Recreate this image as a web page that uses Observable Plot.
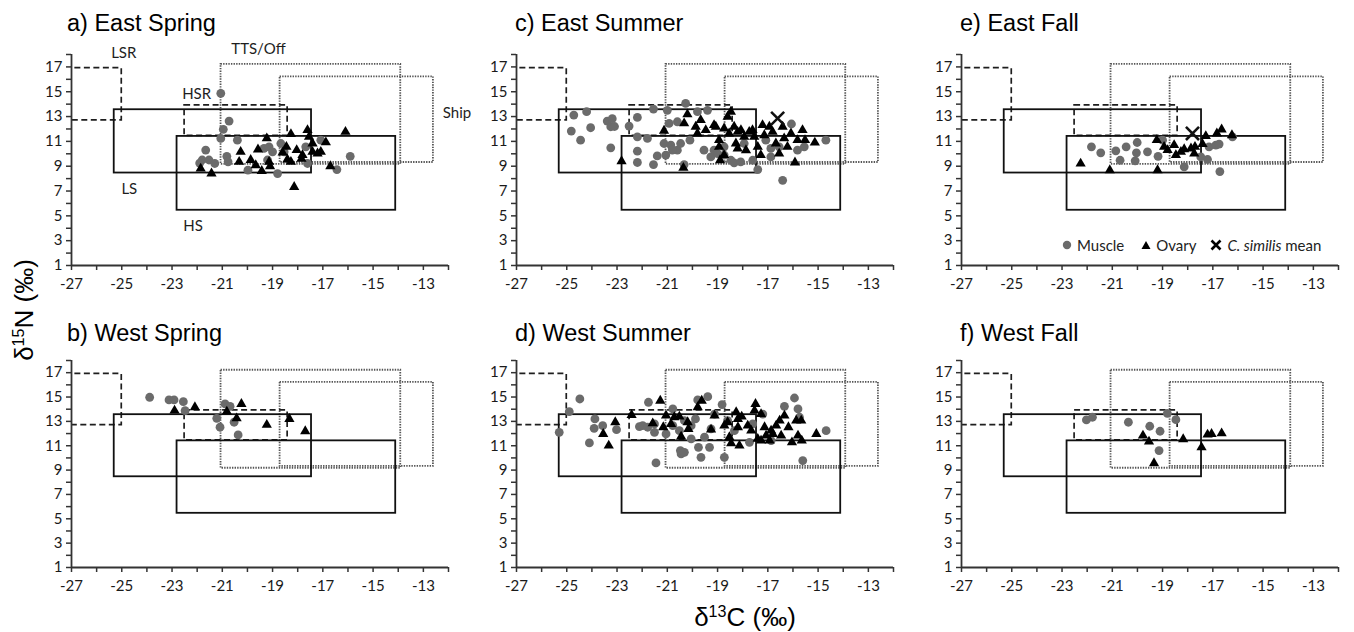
<!DOCTYPE html>
<html><head><meta charset="utf-8">
<script src="https://cdn.jsdelivr.net/npm/d3@7"></script>
<script src="https://cdn.jsdelivr.net/npm/@observablehq/plot@0.6"></script>
<style>
body{margin:0;background:#fff;}
#wrap{position:relative;width:1354px;height:632px;overflow:hidden;font-family:"Liberation Sans",Arial,sans-serif;background:#fff;}
.panel{position:absolute;}
.title{position:absolute;font-size:23.5px;line-height:1;white-space:nowrap;color:#000;}
.axtitle{position:absolute;font-size:26px;line-height:1;white-space:nowrap;color:#000;}
.axtitle sup{font-size:0.62em;vertical-align:0.55em;line-height:0;}
#legend{position:absolute;display:flex;align-items:center;font-family:Lato,sans-serif;font-size:15px;color:#222;white-space:nowrap;}
#legend svg{display:block;}
</style></head><body><div id="wrap"></div>
<script>
// ---------- data (δ13C, δ15N pairs) ----------
const panelTitles = ["a) East Spring","b) West Spring","c) East Summer","d) West Summer","e) East Fall","f) West Fall"];

const eastSpringMuscle = [[-21.06,14.87],[-20.73,12.64],[-20.96,11.97],[-21.06,11.24],[-20.4,11.1],[-21.66,10.3],[-21.8,9.5],[-21.53,9.5],[-21.3,9.22],[-21.9,9.25],[-20.82,9.8],[-20.77,9.35],[-19.98,8.68],[-19.34,10.43],[-19.14,10.56],[-19.0,10.16],[-19.2,9.5],[-18.8,8.41],[-18.67,10.83],[-18.54,10.16],[-17.68,10.56],[-17.08,11.1],[-17.61,9.22],[-16.44,8.73],[-15.91,9.8]];
const eastSpringOvary = [[-21.86,8.81],[-21.43,8.41],[-20.27,10.16],[-20.33,9.35],[-19.87,9.5],[-19.67,9.08],[-19.43,8.62],[-19.23,11.24],[-19.58,10.35],[-19.14,9.35],[-19.1,9.0],[-18.45,10.56],[-18.27,11.59],[-18.41,9.54],[-18.27,9.35],[-18.04,10.3],[-17.81,9.89],[-17.61,11.91],[-17.55,11.37],[-17.41,10.83],[-17.41,10.16],[-17.21,10.03],[-17.08,10.16],[-16.88,10.92],[-16.7,9.0],[-16.1,11.77],[-18.14,7.33],[-17.85,9.6],[-18.6,10.1]];

const westSpringMuscle = [[-23.89,14.98],[-23.12,14.76],[-22.92,14.76],[-22.55,14.62],[-22.48,13.88],[-20.89,14.43],[-20.69,14.24],[-21.22,13.25],[-21.09,12.52],[-20.53,12.93],[-20.37,11.89]];
const westSpringOvary = [[-22.9,13.88],[-22.09,14.16],[-20.82,13.8],[-20.43,13.25],[-20.24,14.43],[-19.23,12.71],[-18.33,13.2],[-17.7,12.19]];

const eastSummerMuscle = [[-24.72,13.12],[-24.82,11.83],[-24.45,11.1],[-24.21,13.39],[-24.05,12.1],[-23.39,12.64],[-23.19,12.83],[-23.25,12.18],[-23.1,12.2],[-23.25,10.48],[-22.52,12.23],[-22.19,12.93],[-22.19,10.21],[-22.19,9.3],[-22.19,11.37],[-21.79,11.24],[-21.55,13.6],[-21.55,9.13],[-21.4,9.83],[-21.06,9.9],[-21.0,13.5],[-20.93,12.45],[-20.86,10.7],[-20.6,10.29],[-20.6,12.58],[-20.47,10.83],[-20.27,14.06],[-20.33,9.13],[-20.1,11.1],[-19.8,13.39],[-19.54,10.29],[-19.27,9.75],[-19.14,10.29],[-19.0,10.02],[-18.74,10.56],[-18.74,9.9],[-18.47,9.48],[-18.34,9.27],[-18.08,9.35],[-17.94,10.83],[-17.6,9.48],[-17.4,8.73],[-17.08,11.1],[-16.88,10.43],[-16.88,9.75],[-16.55,10.56],[-16.41,7.86],[-16.06,12.4],[-15.82,10.29],[-15.55,10.56],[-14.69,11.1],[-19.4,13.5],[-21.13,10.83],[-20.8,10.3]];
const eastSummerOvary = [[-22.82,9.4],[-20.36,8.87],[-21.13,11.86],[-20.33,12.45],[-20.2,13.18],[-19.87,12.18],[-19.8,11.64],[-19.67,12.72],[-19.47,11.91],[-19.14,12.31],[-19.07,12.18],[-18.94,11.1],[-18.94,10.56],[-18.9,9.48],[-18.74,12.04],[-18.6,12.99],[-18.47,13.39],[-18.54,11.64],[-18.74,9.9],[-18.34,12.18],[-18.2,11.77],[-18.27,10.83],[-18.2,10.43],[-18.07,11.91],[-17.94,11.37],[-17.87,10.29],[-17.74,11.77],[-17.61,11.91],[-17.54,11.37],[-17.4,10.56],[-17.28,9.9],[-17.21,12.31],[-17.14,11.5],[-16.94,12.18],[-16.81,11.77],[-16.68,10.83],[-16.55,10.02],[-16.41,12.18],[-16.35,11.24],[-16.22,10.56],[-16.08,11.64],[-15.92,9.3],[-15.82,11.1],[-15.62,11.91],[-15.52,11.1],[-15.13,10.9]];
const eastSummerMean = [[-16.61,12.85]];

const westSummerMuscle = [[-25.3,12.1],[-24.9,13.8],[-24.48,14.84],[-24.1,11.23],[-23.88,13.2],[-23.91,12.43],[-23.57,12.65],[-23.02,12.32],[-22.11,12.57],[-21.98,12.65],[-21.75,14.57],[-21.78,12.52],[-21.51,12.1],[-21.45,9.59],[-21.05,11.97],[-20.78,14.02],[-20.78,12.65],[-20.52,12.24],[-20.48,10.6],[-20.45,10.33],[-20.32,10.46],[-20.32,13.06],[-20.05,12.65],[-19.88,13.2],[-19.79,14.76],[-19.76,10.87],[-19.66,10.05],[-19.52,11.7],[-19.39,15.03],[-19.32,10.87],[-19.26,12.38],[-19.12,13.6],[-18.82,14.38],[-18.73,10.05],[-18.6,13.06],[-18.33,12.24],[-17.73,11.28],[-17.6,12.79],[-17.2,13.6],[-16.87,11.42],[-16.34,14.24],[-15.94,14.92],[-15.8,14.02],[-15.74,13.34],[-15.61,9.78],[-14.68,12.24],[-20.05,11.56],[-21.51,12.79]];
const westSummerOvary = [[-23.55,11.97],[-23.33,11.01],[-23.07,12.93],[-22.42,13.53],[-21.58,12.84],[-21.28,14.7],[-21.16,12.52],[-21.05,13.47],[-20.85,12.79],[-20.72,13.34],[-20.52,13.39],[-20.45,11.75],[-20.19,12.93],[-20.16,12.38],[-19.79,14.16],[-19.63,14.7],[-19.26,12.32],[-19.12,13.47],[-18.73,12.65],[-18.6,12.93],[-18.53,11.7],[-18.46,11.2],[-18.26,13.75],[-18.19,13.2],[-18.19,12.52],[-18.13,11.01],[-18.04,13.39],[-17.8,12.65],[-17.66,12.24],[-17.53,13.88],[-17.49,14.43],[-17.4,11.56],[-17.27,13.6],[-17.13,12.52],[-17.07,11.83],[-16.93,11.42],[-16.8,11.97],[-16.67,12.65],[-16.53,13.06],[-16.47,11.83],[-16.34,13.47],[-16.18,12.52],[-16.04,11.28],[-15.87,13.06],[-15.8,11.83],[-15.67,13.06],[-15.65,11.42],[-15.07,11.97],[-16.87,12.24],[-17.27,11.42]];

const eastFallMuscle = [[-21.83,10.56],[-21.46,10.08],[-20.86,10.24],[-20.69,9.48],[-20.45,10.56],[-20.09,9.43],[-20.04,10.08],[-20.01,10.91],[-19.6,10.16],[-19.18,9.8],[-19.0,11.1],[-18.14,8.95],[-17.15,10.56],[-16.88,10.7],[-17.21,9.54],[-17.48,9.75],[-16.72,8.57],[-16.75,10.78],[-16.22,11.37]];
const eastFallOvary = [[-22.26,9.21],[-21.1,8.68],[-19.2,8.68],[-19.23,11.1],[-18.94,10.56],[-18.8,10.3],[-18.54,10.7],[-18.47,9.9],[-18.27,10.16],[-18.14,10.37],[-17.87,10.43],[-17.74,10.02],[-17.71,10.56],[-17.41,10.78],[-17.28,11.42],[-16.84,11.64],[-16.65,11.96],[-16.24,11.5]];
const eastFallMean = [[-17.81,11.64]];

const westFallMuscle = [[-22.03,13.12],[-21.79,13.34],[-20.36,12.93],[-19.51,12.6],[-19.1,12.19],[-19.14,10.6],[-18.81,13.66],[-18.47,13.14]];
const westFallOvary = [[-19.78,11.83],[-19.54,11.34],[-19.34,9.56],[-18.18,11.53],[-17.45,10.87],[-17.21,11.91],[-17.05,11.97],[-16.65,12.02]];

// source regions (δ13C range, δ15N range)
const regionNames = ["Ship","TTS/Off","LSR","HSR","LS","HS"];
const regionKind  = ["offshore","offshore","river","river","shelf","shelf"];
const regionC1 = [-18.7, -21.05, -28, -22.5, -25.3, -22.8];
const regionC2 = [-12.6, -13.9, -25, -18.4, -17.45, -14.1];
const regionN1 = [9.3, 9.15, 12.7, 11.45, 8.45, 5.45];
const regionN2 = [16.2, 17.2, 16.9, 13.9, 13.55, 11.4];

// region labels drawn in panel a
const labelNames = ["LSR","TTS/Off","HSR","Ship","LS","HS"];
const labelC = [-24.92, -19.56, -22.02, -11.66, -24.7, -22.16];
const labelN = [18.1, 18.45, 14.79, 13.3, 7.12, 4.18];

const xTicks = d3.range(-27, -11, 1);
const yTicks = d3.range(1, 19, 1);

// ---------- layout ----------
const regions = regionNames.map((name, i) => ({name, kind: regionKind[i], x1: regionC1[i], x2: regionC2[i], y1: regionN1[i], y2: regionN2[i]}));
const labels = labelNames.map((name, i) => ({name, x: labelC[i], y: labelN[i]}));

const ML = 45, MR = 20, MT = 20, MB = 40, FW = 377;
const colLeft = [71, 516, 961];
const titleLeft = [67, 515, 960];
const rowTop = [54, 360];
const rowH = [211, 207];
const titleTop = [12, 322];

const panels = [
  {title: panelTitles[0], col: 0, row: 0, muscle: eastSpringMuscle, ovary: eastSpringOvary, mean: [], labels: true},
  {title: panelTitles[1], col: 0, row: 1, muscle: westSpringMuscle, ovary: westSpringOvary, mean: []},
  {title: panelTitles[2], col: 1, row: 0, muscle: eastSummerMuscle, ovary: eastSummerOvary, mean: eastSummerMean},
  {title: panelTitles[3], col: 1, row: 1, muscle: westSummerMuscle, ovary: westSummerOvary, mean: []},
  {title: panelTitles[4], col: 2, row: 0, muscle: eastFallMuscle, ovary: eastFallOvary, mean: eastFallMean},
  {title: panelTitles[5], col: 2, row: 1, muscle: westFallMuscle, ovary: westFallOvary, mean: []}
];

const wrap = document.getElementById("wrap");
const oddLabel = d => (Math.abs(d) % 2 === 1 ? String(d) : "");

for (const p of panels) {
  const h = rowH[p.row];
  const chart = Plot.plot({
    width: ML + FW + MR,
    height: MT + h + MB,
    marginLeft: ML, marginRight: MR, marginTop: MT, marginBottom: MB,
    x: {domain: [-27, -12], axis: null},
    y: {domain: [1, 18], axis: null},
    style: {fontFamily: "Lato, sans-serif", fontSize: "15px", color: "#1a1a1a", background: "transparent", overflow: "visible"},
    marks: [
      Plot.rect(regions.filter(r => r.kind === "offshore"), {x1: "x1", x2: "x2", y1: "y1", y2: "y2", fill: "none", stroke: "#555", strokeWidth: 1.8, strokeDasharray: "1.4,1.2", clip: true}),
      Plot.rect(regions.filter(r => r.kind === "river"), {x1: "x1", x2: "x2", y1: "y1", y2: "y2", fill: "none", stroke: "#1e1e1e", strokeWidth: 1.7, strokeDasharray: "6,3.5", clip: true}),
      Plot.rect(regions.filter(r => r.kind === "shelf"), {x1: "x1", x2: "x2", y1: "y1", y2: "y2", fill: "none", stroke: "#111", strokeWidth: 1.8, clip: true}),
      Plot.axisX(xTicks, {anchor: "bottom", tickSize: 5, tickPadding: 8, tickFormat: oddLabel, strokeWidth: 1.5, stroke: "#333"}),
      Plot.axisY(yTicks, {anchor: "left", tickSize: 5, tickPadding: 4, tickFormat: oddLabel, strokeWidth: 1.5, stroke: "#333"}),
      Plot.ruleX([-27], {y1: 1, y2: 18, stroke: "#333", strokeWidth: 1.8}),
      Plot.ruleY([1], {x1: -27, x2: -12, stroke: "#333", strokeWidth: 1.8}),
      p.labels ? Plot.text(labels, {x: "x", y: "y", text: "name", fontSize: 15, fill: "#1e1e1e"}) : null,
      Plot.dot(p.muscle, {x: d => d[0], y: d => d[1], r: 4.4, fill: "#6b6b6b"}),
      Plot.dot(p.ovary, {x: d => d[0], y: d => d[1], symbol: "triangle", r: 3.8, fill: "#000"}),
      Plot.dot(p.mean, {x: d => d[0], y: d => d[1], symbol: "times", r: 6, stroke: "#111", strokeWidth: 2.6})
    ]
  });
  chart.classList.add("panel");
  chart.style.left = (colLeft[p.col] - ML) + "px";
  chart.style.top = (rowTop[p.row] - MT) + "px";
  chart.style.maxWidth = "none";
  wrap.appendChild(chart);

  const t = document.createElement("div");
  t.className = "title";
  t.textContent = p.title;
  t.style.left = titleLeft[p.col] + "px";
  t.style.top = titleTop[p.row] + "px";
  wrap.appendChild(t);
}

// axis titles
const xt = document.createElement("div");
xt.className = "axtitle";
xt.innerHTML = "δ<sup>13</sup>C (‰)";
xt.style.left = "745px"; xt.style.top = "604px"; xt.style.transform = "translateX(-50%)";
wrap.appendChild(xt);

const yt = document.createElement("div");
yt.className = "axtitle";
yt.innerHTML = "δ<sup>15</sup>N (‰)";
yt.style.left = "24px"; yt.style.top = "310px"; yt.style.transform = "translate(-50%,-50%) rotate(-90deg)";
wrap.appendChild(yt);

// legend (panel e)
const lg = document.createElement("div");
lg.id = "legend";
lg.style.left = "1062px"; lg.style.top = "236px";
lg.innerHTML =
  '<svg width="10" height="10"><circle cx="5" cy="5" r="4.2" fill="#6b6b6b"/></svg>' +
  '<span style="margin-left:5px">Muscle</span>' +
  '<svg width="10" height="10" style="margin-left:17px"><path d="M5,1L9.5,9H0.5Z" fill="#000"/></svg>' +
  '<span style="margin-left:5px">Ovary</span>' +
  '<svg width="12" height="12" style="margin-left:14px"><path d="M1.5,1.5L10.5,10.5M10.5,1.5L1.5,10.5" stroke="#000" stroke-width="2.6"/></svg>' +
  '<span style="margin-left:5px"><i>C. similis</i> mean</span>';
wrap.appendChild(lg);
</script>
</body></html>
